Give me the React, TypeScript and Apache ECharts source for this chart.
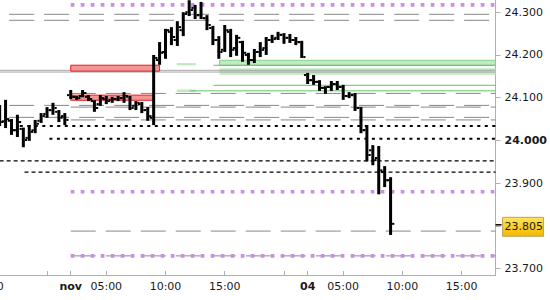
import React, { useEffect, useRef } from 'react';
import * as echarts from 'echarts';

// x unit: trading hours since the 03 Nov session open; one bar = 30 minutes
const firstBarHour = -6;
const barHours = 0.5;

const opens = [24.071, 24.045, 24.046, 24.024, 24.027, 24.006, 24.024, 24.046, 24.062, 24.071, 24.067, 24.057,
  24.106, 24.102, 24.104, 24.102, 24.092, 24.085, 24.097, 24.095, 24.097, 24.099, 24.102, 24.081, 24.085, 24.071,
  24.053, 24.188, 24.207, 24.254, 24.235, 24.258, 24.300, 24.310, 24.293, 24.286, 24.263, 24.235, 24.212, 24.254,
  24.216, 24.230, 24.200, 24.188, 24.207, 24.216, 24.235, 24.240, 24.247, 24.240, 24.235, 24.230,
  24.153, 24.141, 24.137, 24.123, 24.125, 24.132, 24.125, 24.104, 24.106, 24.076, 24.024, 23.977, 23.959, 23.926, 23.907];
const highs = [24.083, 24.095, 24.050, 24.060, 24.030, 24.036, 24.048, 24.064, 24.078, 24.088, 24.071, 24.064,
  24.118, 24.104, 24.118, 24.106, 24.094, 24.106, 24.104, 24.102, 24.104, 24.113, 24.104, 24.092, 24.090, 24.078,
  24.200, 24.230, 24.261, 24.265, 24.279, 24.300, 24.328, 24.317, 24.324, 24.293, 24.268, 24.244, 24.270, 24.261,
  24.247, 24.233, 24.205, 24.214, 24.230, 24.242, 24.247, 24.254, 24.251, 24.249, 24.242, 24.233,
  24.158, 24.153, 24.141, 24.127, 24.139, 24.139, 24.130, 24.113, 24.111, 24.078, 24.036, 23.989, 23.987, 23.940, 23.914];
const lows = [24.034, 24.029, 24.013, 24.008, 23.984, 23.999, 24.017, 24.041, 24.053, 24.060, 24.043, 24.036,
  24.097, 24.095, 24.101, 24.092, 24.067, 24.081, 24.085, 24.088, 24.092, 24.088, 24.071, 24.071, 24.064, 24.046,
  24.036, 24.177, 24.191, 24.223, 24.221, 24.244, 24.291, 24.284, 24.284, 24.258, 24.223, 24.191, 24.207, 24.195,
  24.198, 24.184, 24.177, 24.181, 24.195, 24.200, 24.228, 24.235, 24.226, 24.228, 24.223, 24.193,
  24.132, 24.130, 24.116, 24.109, 24.116, 24.118, 24.095, 24.099, 24.069, 24.017, 23.951, 23.942, 23.874, 23.891, 23.779];
const closes = [24.043, 24.050, 24.024, 24.043, 24.001, 24.020, 24.039, 24.057, 24.071, 24.076, 24.053, 24.048,
  24.102, 24.099, 24.111, 24.097, 24.076, 24.099, 24.092, 24.097, 24.099, 24.104, 24.076, 24.088, 24.071, 24.057,
  24.193, 24.205, 24.258, 24.242, 24.265, 24.296, 24.305, 24.293, 24.286, 24.270, 24.235, 24.207, 24.258, 24.212,
  24.240, 24.205, 24.188, 24.207, 24.212, 24.235, 24.237, 24.247, 24.240, 24.235, 24.230, 24.195,
  24.141, 24.137, 24.123, 24.125, 24.132, 24.125, 24.104, 24.106, 24.076, 24.024, 23.966, 23.954, 23.930, 23.907, 23.805];

// horizontal levels (price, start hour)
const grayDashLevels = [24.295, 24.281, 24.082, 24.054, 24.110, 24.078, 24.048, 23.788, 23.730];
const grayDashStarts = [-5.2, -5.2, -5.2, -5.2, 0, 0, 0, 0, 0];
const graySolidLevels = [24.164, 24.160];
const purpleLevels = [24.317, 23.880, 23.730];
const purpleStarts = [0, 0, 0];
const blackDottedLevels = [24.034, 24.004];
const blackDottedStarts = [-4.3, -1.8];
const blackDashedLevels = [23.952, 23.926];
const blackDashedStarts = [-6, -3.9];
const greenLineLevels = [24.1758, 24.129, 24.116];
const greenLineStarts = [12.05, 12.05, 10.04];

// zones
const redZoneStart = [0, 0];
const redZoneEnd = [7.5, 7.0];
const redZoneHigh = [24.176, 24.106];
const redZoneLow = [24.162, 24.094];
const greenZoneStart = [12.56, 12.56, 8.95, 8.95];
const greenZoneEnd = [null, null, 10.55, 10.55];
const greenZoneHigh = [24.1875, 24.1688, 24.1812, 24.1192];
const greenZoneLow = [24.1758, 24.1538, 24.1753, 24.1133];

// axes
const xTickHours = [-2, 0, 3, 8, 13, 18, 20, 23, 28, 33];
const xLabelHours = [-7, 0, 3, 8, 13, 20, 23, 28, 33];
const xLabelTexts = ['15:00', 'nov', '05:00', '10:00', '15:00', '04', '05:00', '10:00', '15:00'];
const xDayLabels = ['nov', '04'];
const yTicks = [23.7, 23.8, 23.9, 24.0, 24.1, 24.2, 24.3];
const yLabels = [23.7, 23.9, 24.0, 24.1, 24.2, 24.3];
const yBoldLabels = [24.0];

const X_MIN = -5.97;
const X_MAX = 35.86;
const Y_MIN = 23.6853;
const Y_MAX = 24.3285;
const FONT = '"DejaVu Sans", Verdana, sans-serif';
const TEXT = '#1a1a1a';
const AXIS = '#b0b0b0';

function levelSeries(values: number[], starts: number[] | null, color: string, width: number, dash: any, z: number) {
  return values.map((v, k) => ({
    type: 'line',
    data: [[starts ? starts[k] : X_MIN, v], [X_MAX, v]],
    symbol: 'none',
    silent: true,
    z,
    lineStyle: { color, width, type: dash },
  }));
}

export default function App() {
  const ref = useRef<HTMLDivElement>(null);
  useEffect(() => {
    if (!ref.current) return;
    const chart = echarts.init(ref.current, null, { renderer: 'svg' });
    const bars = opens.map((o, i) => [firstBarHour + i * barHours, o, highs[i], lows[i], closes[i]]);
    const redData = redZoneStart.map((s, k) => [s, redZoneEnd[k], redZoneHigh[k], redZoneLow[k]]);
    const greenData = greenZoneStart.map((s, k) => [s, greenZoneEnd[k] == null ? X_MAX : greenZoneEnd[k], greenZoneHigh[k], greenZoneLow[k], k]);

    const zoneRender = (fill: string, strokeFor: (k: number) => string | null) => (params: any, api: any) => {
      const p0 = api.coord([api.value(0), api.value(2)]);
      const p1 = api.coord([api.value(1), api.value(3)]);
      const stroke = strokeFor(params.dataIndex);
      return {
        type: 'rect',
        shape: { x: p0[0], y: p0[1], width: p1[0] - p0[0], height: p1[1] - p0[1] },
        style: { fill, stroke: stroke || 'none', lineWidth: stroke ? 1 : 0 },
      };
    };

    const option: any = {
      animation: false,
      backgroundColor: '#ffffff',
      grid: { left: 0, right: 51, top: 0, bottom: 25 },
      xAxis: {
        type: 'value',
        min: X_MIN,
        max: X_MAX,
        axisLine: { show: true, onZero: false, lineStyle: { color: AXIS, width: 1 } },
        axisTick: { show: true, inside: true, length: 4, customValues: xTickHours, lineStyle: { color: AXIS } },
        splitLine: { show: false },
        axisLabel: {
          customValues: xLabelHours.filter((h) => h >= X_MIN && h <= X_MAX),
          margin: 6,
          fontFamily: FONT,
          fontSize: 11,
          color: TEXT,
          formatter: (v: number) => {
            const k = xLabelHours.findIndex((h) => Math.abs(h - v) < 1e-6);
            const t = k >= 0 ? xLabelTexts[k] : '';
            return xDayLabels.includes(t) ? `{b|${t}}` : t;
          },
          rich: { b: { fontWeight: 'bold', fontFamily: FONT, fontSize: 11, color: TEXT } },
        },
      },
      yAxis: {
        type: 'value',
        position: 'right',
        min: Y_MIN,
        max: Y_MAX,
        axisLine: { show: true, onZero: false, lineStyle: { color: AXIS, width: 1 } },
        axisTick: { show: true, inside: false, length: 5, customValues: yTicks, lineStyle: { color: AXIS } },
        splitLine: { show: false },
        axisLabel: {
          customValues: yLabels,
          margin: 9,
          fontFamily: FONT,
          fontSize: 11,
          color: TEXT,
          formatter: (v: number) => {
            const s = v.toFixed(3);
            return yBoldLabels.some((b) => Math.abs(b - v) < 1e-6) ? `{b|${s}}` : s;
          },
          rich: { b: { fontWeight: 'bold', fontFamily: FONT, fontSize: 11, color: TEXT } },
        },
      },
      series: [
        {
          type: 'custom',
          z: 1,
          silent: true,
          clip: true,
          data: greenData,
          encode: { x: [0, 1], y: [2, 3] },
          renderItem: zoneRender('#c2eac2', (k) => (k === 0 ? '#86d286' : null)),
        },
        ...levelSeries(greenLineLevels, greenLineStarts, '#62c462', 1, 'solid', 2),
        ...levelSeries(graySolidLevels, null, '#a8a8a8', 1, 'solid', 2),
        ...levelSeries(grayDashLevels, grayDashStarts, '#888888', 1, [25, 10], 2),
        ...levelSeries(purpleLevels, purpleStarts, '#c98fe2', 3.7, [3.7, 6.3], 3),
        ...levelSeries(blackDottedLevels, blackDottedStarts, '#000000', 2, [3, 4.5], 3),
        ...levelSeries(blackDashedLevels, blackDashedStarts, '#000000', 1.2, [4, 3], 3),
        {
          type: 'custom',
          z: 4,
          silent: true,
          clip: true,
          data: redData,
          encode: { x: [0, 1], y: [2, 3] },
          renderItem: zoneRender('#f39595', () => '#e41e1e'),
        },
        {
          type: 'custom',
          z: 5,
          silent: true,
          clip: true,
          data: bars,
          encode: { x: 0, y: [1, 2, 3, 4] },
          renderItem: (params: any, api: any) => {
            const t = api.value(0);
            const pO = api.coord([t, api.value(1)]);
            const pH = api.coord([t, api.value(2)]);
            const pL = api.coord([t, api.value(3)]);
            const pC = api.coord([t, api.value(4)]);
            const x = pH[0];
            return {
              type: 'group',
              children: [
                { type: 'rect', shape: { x: x - 1.5, y: pH[1], width: 3, height: Math.max(1, pL[1] - pH[1]) }, style: { fill: '#000' } },
                { type: 'rect', shape: { x: x - 3.75, y: pO[1] - 1, width: 2.25, height: 2 }, style: { fill: '#000' } },
                { type: 'rect', shape: { x: x + 1.5, y: pC[1] - 1, width: 2.25, height: 2 }, style: { fill: '#000' } },
              ],
            };
          },
        },
      ],
    };
    chart.setOption(option);

    const lastClose = closes[closes.length - 1];
    const py = chart.convertToPixel({ yAxisIndex: 0 }, lastClose) as number;
    const axisX = chart.convertToPixel({ xAxisIndex: 0 }, X_MAX) as number;
    const axisBottom = chart.convertToPixel({ yAxisIndex: 0 }, Y_MIN) as number;
    const graphics: any[] = [
      { type: 'line', z: 10, shape: { x1: axisX, y1: py + 1, x2: axisX + 6, y2: py + 1 }, style: { stroke: '#000', lineWidth: 1.5 } },
      {
        type: 'rect', z: 10,
        shape: { x: axisX + 7, y: py - 6.5, width: 41, height: 19 },
        style: {
          fill: new echarts.graphic.LinearGradient(0, 0, 0, 1, [
            { offset: 0, color: '#ffe45a' },
            { offset: 1, color: '#f3b800' },
          ]),
          stroke: '#bca25a', lineWidth: 1,
        },
      },
      {
        type: 'text', z: 11,
        style: { text: lastClose.toFixed(3), x: axisX + 9, y: py + 3, verticalAlign: 'middle', font: `11px ${FONT}`, fill: TEXT },
      },
    ];
    xLabelHours.forEach((h, k) => {
      if (h < X_MIN || h > X_MAX) {
        const px = chart.convertToPixel({ xAxisIndex: 0 }, h) as number;
        graphics.push({
          type: 'text', z: 11,
          style: { text: xLabelTexts[k], x: px, y: axisBottom + 6, align: 'center', verticalAlign: 'top', font: `11px ${FONT}`, fill: TEXT },
        });
      }
    });
    chart.setOption({ graphic: graphics });

    return () => chart.dispose();
  }, []);
  return <div ref={ref} style={{ position: 'absolute', left: 0, top: 0, width: 550, height: 300 }} />;
}
